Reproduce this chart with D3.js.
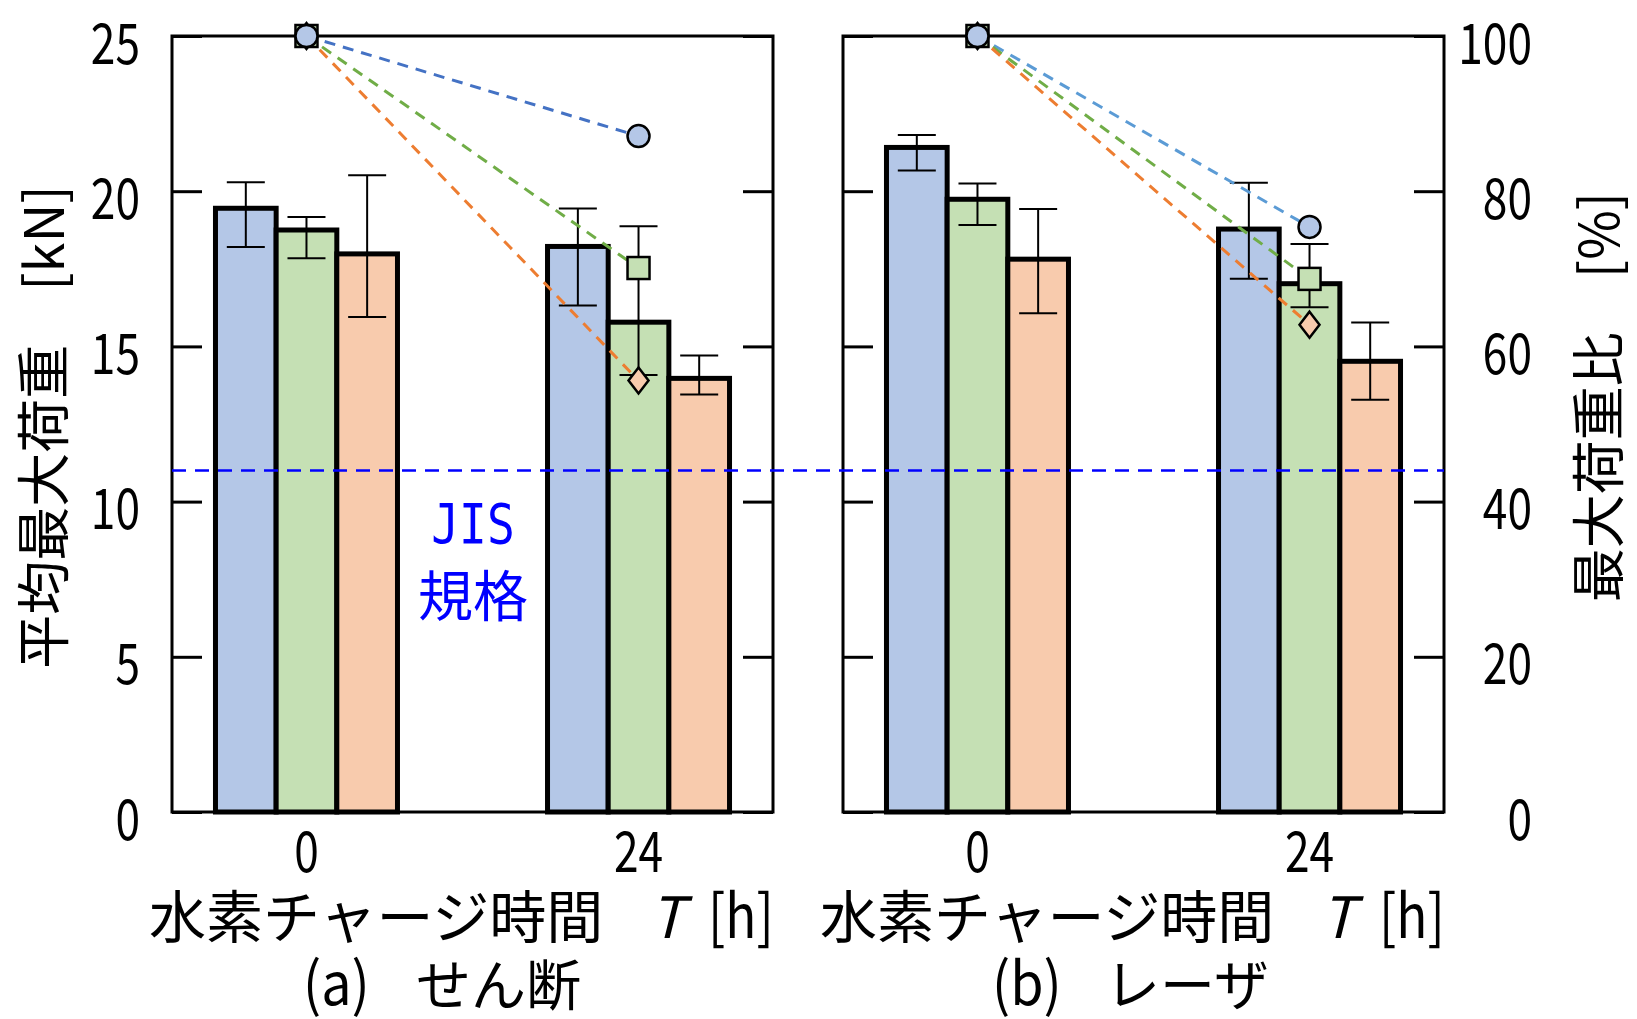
<!DOCTYPE html>
<html>
<head>
<meta charset="utf-8">
<script src="https://cdn.jsdelivr.net/npm/d3@7"></script>
<style>
  body { margin: 0; background: #fff; }
  text { font-family: "Noto Sans CJK JP", "Noto Sans", sans-serif; white-space: pre; }
</style>
</head>
<body>
<div class="container"></div>
<script>
const wd = 1637
const ht = 1019

// data
const hours = ["0", "24"]
const seriesKeys = ["s1", "s2", "s3"]
const fills = ["#b4c7e7", "#c5e0b4", "#f8cbad"]
const markerShapes = ["circle", "square", "diamond"]

const shearMean  = [[19.45, 18.75, 17.98], [18.22, 15.78, 13.97]]
const shearErrLo = [[18.20, 17.84, 15.95], [16.32, 14.08, 13.45]]
const shearErrHi = [[20.29, 19.17, 20.51], [19.44, 18.87, 14.71]]
const shearRatio = [[100, 100, 100], [87.1, 70.1, 55.6]]

const laserMean  = [[21.41, 19.74, 17.81], [18.78, 17.02, 14.52]]
const laserErrLo = [[20.67, 18.91, 16.07], [17.18, 16.26, 13.28]]
const laserErrHi = [[21.81, 20.25, 19.43], [20.27, 18.30, 15.77]]
const laserRatio = [[100, 100, 100], [75.4, 68.7, 62.8]]

const jisLoad = 11
const loadTicks = [0, 5, 10, 15, 20, 25]
const ratioTicks = [0, 20, 40, 60, 80, 100]

const yTop = 36, yBot = 812
const panelW = 601

const svgC = d3.select(".container").append("svg")
  .attr("width", wd)
  .attr("height", ht)

const yLoad = d3.scaleLinear().domain([0, 25]).range([yBot, yTop])
const yRatio = d3.scaleLinear().domain([0, 100]).range([yBot, yTop])

const xGroup = d3.scalePoint().domain(hours).range([0, panelW]).padding(0.405)
const xSeries = d3.scaleBand().domain(seriesKeys).range([-91, 91]).paddingInner(0)

function numText(g, txt, x, y, anchor, size) {
  g.append("text")
    .attr("transform", "translate(" + x + "," + y + ") scale(0.82,1.05)")
    .attr("text-anchor", anchor)
    .attr("dominant-baseline", "central")
    .style("font-size", (size || 54) + "px")
    .text(txt)
}

const panels = [
  {x0: 172, mean: shearMean, lo: shearErrLo, hi: shearErrHi, ratio: shearRatio,
   lineCols: ["#4472c4", "#70ad47", "#ed7d31"], leftLabels: true, rightLabels: false,
   tag: "(a)", title: "せん断", titleX: 131},
  {x0: 843, mean: laserMean, lo: laserErrLo, hi: laserErrHi, ratio: laserRatio,
   lineCols: ["#5b9bd5", "#70ad47", "#ed7d31"], leftLabels: false, rightLabels: true,
   tag: "(b)", title: "レーザ", titleX: 149}
]

panels.forEach((p) => {
  const g = svgC.append("g").attr("transform", "translate(" + p.x0 + ",0)")

  // bars
  hours.forEach((h, i) => {
    seriesKeys.forEach((s, j) => {
      const bx = xGroup(h) + xSeries(s)
      g.append("rect")
        .attr("x", bx)
        .attr("y", yLoad(p.mean[i][j]))
        .attr("width", xSeries.bandwidth())
        .attr("height", yLoad(0) - yLoad(p.mean[i][j]))
        .attr("fill", fills[j])
        .attr("stroke", "#000")
        .attr("stroke-width", 5)
    })
  })

  // error bars
  hours.forEach((h, i) => {
    seriesKeys.forEach((s, j) => {
      const cx = xGroup(h) + xSeries(s) + xSeries.bandwidth() / 2
      const eg = g.append("g").attr("stroke", "#000").attr("stroke-width", 2)
      eg.append("line").attr("x1", cx).attr("x2", cx)
        .attr("y1", yLoad(p.lo[i][j])).attr("y2", yLoad(p.hi[i][j]))
      eg.append("line").attr("x1", cx - 19).attr("x2", cx + 19)
        .attr("y1", yLoad(p.lo[i][j])).attr("y2", yLoad(p.lo[i][j]))
      eg.append("line").attr("x1", cx - 19).attr("x2", cx + 19)
        .attr("y1", yLoad(p.hi[i][j])).attr("y2", yLoad(p.hi[i][j]))
    })
  })

  // frame + ticks
  g.append("rect").attr("x", 0).attr("y", yTop).attr("width", panelW).attr("height", yBot - yTop)
    .attr("fill", "none").attr("stroke", "#000").attr("stroke-width", 3)

  const leftAx = d3.axisRight(yLoad).tickValues(loadTicks).tickSize(30).tickFormat("")
  g.append("g").call(leftAx)
    .call(a => a.select(".domain").remove())
    .selectAll("line").attr("stroke-width", 3)
  const rightAx = d3.axisLeft(yRatio).tickValues(ratioTicks).tickSize(30).tickFormat("")
  g.append("g").attr("transform", "translate(" + panelW + ",0)").call(rightAx)
    .call(a => a.select(".domain").remove())
    .selectAll("line").attr("stroke-width", 3)

  if (p.leftLabels) {
    loadTicks.forEach(t => numText(g, t, -32, yLoad(t) + 3, "end"))
  }
  if (p.rightLabels) {
    ratioTicks.forEach(t => numText(g, t, panelW + 88, yRatio(t) + 3, "end"))
  }

  hours.forEach(h => numText(g, h, xGroup(h), 847, "middle"))

  // x title, pieces placed one after another
  g.append("text")
    .attr("x", -23).attr("y", 938)
    .style("font-size", "57px")
    .text("水素チャージ時間")
  g.append("text")
    .attr("x", 478).attr("y", 938)
    .style("font-size", "57px")
    .style("font-style", "italic")
    .text("T")
  g.append("text")
    .attr("transform", "translate(536,938) scale(0.9,1.05)")
    .style("font-size", "57px")
    .text("[h]")

  // panel caption
  g.append("text")
    .attr("transform", "translate(" + p.titleX + ",1005) scale(0.98,1.08)")
    .style("font-size", "55px")
    .text(p.tag)
  g.append("text")
    .attr("x", p.titleX + 113).attr("y", 1005)
    .style("font-size", "55px")
    .text(p.title)

  // ratio lines
  seriesKeys.forEach((s, j) => {
    const pts = hours.map((h, i) => [xGroup(h), yRatio(p.ratio[i][j])])
    g.append("path")
      .attr("d", d3.line()(pts))
      .attr("fill", "none")
      .attr("stroke", p.lineCols[j])
      .attr("stroke-width", 3)
      .attr("stroke-dasharray", "11,8")
  })

  // markers, drawn back to front so the circle sits on top at 100%
  const order = [1, 2, 0]
  hours.forEach((h, i) => {
    order.forEach(j => {
      const mx = xGroup(h), my = yRatio(p.ratio[i][j])
      const shp = markerShapes[j]
      let m
      if (shp == "circle") {
        m = g.append("circle").attr("cx", mx).attr("cy", my).attr("r", 11)
      } else if (shp == "square") {
        m = g.append("rect").attr("x", mx - 11).attr("y", my - 11).attr("width", 22).attr("height", 22)
      } else {
        m = g.append("path").attr("d", "M" + mx + "," + (my - 13) + "L" + (mx + 10) + "," + my +
          "L" + mx + "," + (my + 13) + "L" + (mx - 10) + "," + my + "Z")
      }
      m.attr("fill", fills[j]).attr("stroke", "#000").attr("stroke-width", 2.5)
    })
  })
})

// JIS line across both panels
svgC.append("line")
  .attr("x1", 172).attr("x2", 843 + panelW)
  .attr("y1", yLoad(jisLoad)).attr("y2", yLoad(jisLoad))
  .attr("stroke", "#0000ff").attr("stroke-width", 2.5)
  .attr("stroke-dasharray", "14,9")

svgC.append("text")
  .attr("transform", "translate(473,543) scale(1.05,1.25)")
  .attr("text-anchor", "middle")
  .attr("fill", "#0000ff")
  .style("font-family", "'DejaVu Sans Mono', monospace")
  .style("font-size", "44px")
  .text("JIS")
svgC.append("text")
  .attr("x", 473).attr("y", 616)
  .attr("text-anchor", "middle")
  .attr("fill", "#0000ff")
  .style("font-size", "55px")
  .text("規格")

// y titles
svgC.append("text")
  .attr("transform", "translate(64,427) rotate(-90)")
  .attr("text-anchor", "middle")
  .style("font-size", "54px")
  .text("平均最大荷重　[kN]")

svgC.append("text")
  .attr("transform", "translate(1619,397) rotate(-90)")
  .attr("text-anchor", "middle")
  .style("font-size", "54px")
  .text("最大荷重比　[%]")
</script>
</body>
</html>
